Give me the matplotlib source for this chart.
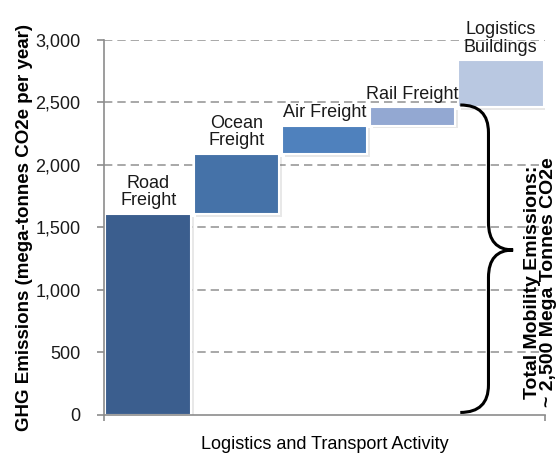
import numpy as np
import matplotlib
matplotlib.use("Agg")
import matplotlib.pyplot as plt
import matplotlib.patheffects as pe
from matplotlib.path import Path
from matplotlib.patches import PathPatch

plt.rcParams['font.family'] = ['Liberation Sans', 'DejaVu Sans']

# Daten (Mt CO2e pro Jahr)
categories = ['Road\nFreight', 'Ocean\nFreight', 'Air Freight', 'Rail Freight', 'Logistics\nBuildings']
values = [1610, 480, 225, 145, 380]
colors = ['#3b5e8e', '#4572a8', '#4f81bd', '#93a8d2', '#b9c8e1']
yticks = [0, 500, 1000, 1500, 2000, 2500, 3000]

bottoms = np.concatenate([[0], np.cumsum(values)[:-1]])
x = np.arange(len(values))

fig = plt.figure(figsize=(5.6, 4.57), dpi=100)
ax = fig.add_axes([0.186, 0.092, 0.787, 0.8205])

# Gitterlinien
for t in yticks[1:]:
    ax.axhline(t, color='#999999', lw=1.2, ls=(0, (5, 3)), zorder=0)

bars = ax.bar(x, values, bottom=bottoms, width=0.97, color=colors,
              edgecolor='white', linewidth=1.5, zorder=2)
for b in bars:
    b.set_path_effects([pe.SimplePatchShadow(offset=(2, -2), alpha=0.15, shadow_rgbFace='#666666'),
                        pe.Normal()])

# Beschriftungen über den Balken
for xi, b, v, lab in zip(x, bottoms, values, categories):
    ax.text(xi, b + v + 35, lab, ha='center', va='bottom', fontsize=13,
            color='#1a1a1a', linespacing=1.05, zorder=3, clip_on=False)

ax.set_xlim(-0.5, 4.5)
ax.set_ylim(0, 3000)
ax.set_yticks(yticks)
ax.set_yticklabels([f'{t:,}' for t in yticks], fontsize=13, color='#1a1a1a')
ax.set_xticks([-0.5, 4.5])
ax.set_xticklabels([])
ax.tick_params(axis='y', length=5, color='#8c8c8c', width=1.2, pad=12)
ax.tick_params(axis='x', length=4, color='#8c8c8c', width=1.2)
for s in ['top', 'right']:
    ax.spines[s].set_visible(False)
for s in ['left', 'bottom']:
    ax.spines[s].set_color('#8c8c8c')
    ax.spines[s].set_linewidth(1.2)

ax.set_ylabel('GHG Emissions (mega-tonnes CO2e per year)', fontsize=13.5,
              fontweight='bold', labelpad=2)
ax.set_xlabel('Logistics and Transport Activity', fontsize=13, labelpad=8)

# geschweifte Klammer
x0, x1, x2 = 3.54, 3.86, 4.14
ytop, ymid, ybot = 2480, 1320, 20
verts = [(x0, ytop), (x1, ytop), (x1, ytop - 220),
         (x1, ymid + 220),
         (x1, ymid), (x2, ymid),
         (x1, ymid), (x1, ymid - 220),
         (x1, ybot + 220),
         (x1, ybot), (x0, ybot)]
codes = [Path.MOVETO, Path.CURVE3, Path.CURVE3,
         Path.LINETO,
         Path.CURVE3, Path.CURVE3,
         Path.CURVE3, Path.CURVE3,
         Path.LINETO,
         Path.CURVE3, Path.CURVE3]
ax.add_patch(PathPatch(Path(verts, codes), fill=False, lw=2.2, color='black',
                       zorder=4, clip_on=False))

ax.text(4.45, 1060, 'Total Mobility Emissions:\n~ 2,500 Mega Tonnes CO2e',
        rotation=90, ha='center', va='center', fontsize=14, fontweight='bold',
        linespacing=0.95, zorder=5, clip_on=False)

fig.savefig('out.png', dpi=100)
